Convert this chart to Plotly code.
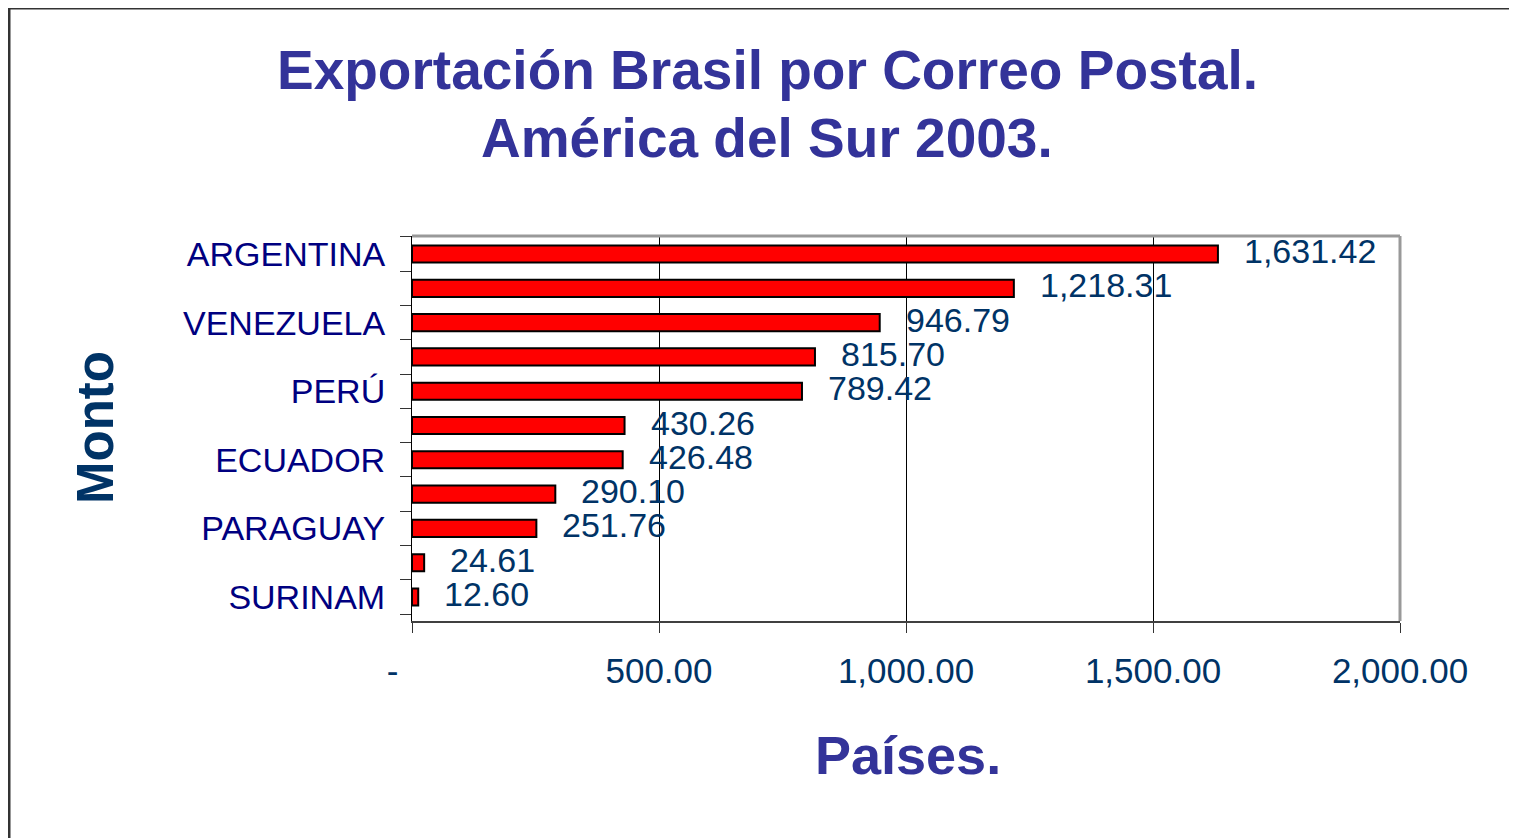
import plotly.graph_objects as go

# ---- data ----
paises = ["ARGENTINA", "CHILE", "VENEZUELA", "URUGUAY", "PERÚ", "COLOMBIA",
          "ECUADOR", "BOLIVIA", "PARAGUAY", "GUYANA", "SURINAM"]
etiqueta_visible = [True, False, True, False, True, False, True, False, True, False, True]
montos = [1631.42, 1218.31, 946.79, 815.70, 789.42, 430.26, 426.48, 290.10, 251.76, 24.61, 12.60]
x_ticks = [0, 500, 1000, 1500, 2000]

titulo1 = "Exportación Brasil por Correo Postal."
titulo2 = "América del Sur 2003."
titulo_x = "Países."
titulo_y = "Monto"

OFF = 8  # page body margin
W, H = 1517 - OFF, 838 - OFF
L, R, T, B = 412 - OFF, 1400 - OFF, 236 - OFF, 621 - OFF  # plot area in figure pixels
FONT = "Arial, Liberation Sans, sans-serif"


def px(xp):  # screenshot x -> paper
    return (xp - OFF - L) / (R - L)


def py(yp):  # screenshot y -> paper
    return (B - (yp - OFF)) / (B - T)


def fmt(v):
    return "-" + "\u00a0" * 4 if v == 0 else f"{v:,.2f}"


fig = go.Figure()
fig.add_trace(go.Bar(
    x=montos, y=paises, orientation="h",
    marker=dict(color="#FF0000", line=dict(color="#000000", width=2)),
    hoverinfo="x+y",
))

# value labels
for p, v in zip(paises, montos):
    fig.add_annotation(x=v, y=p, xref="x", yref="y", text=f"{v:,.2f}",
                       showarrow=False, xanchor="left", yanchor="middle",
                       xshift=24, yshift=3,
                       font=dict(family=FONT, size=34, color="#003366"))

fig.update_layout(
    width=W, height=H,
    margin=dict(l=L, r=W - R, t=T, b=H - B, pad=0),
    paper_bgcolor="white", plot_bgcolor="white",
    bargap=0.5, showlegend=False,
    xaxis=dict(range=[0, 2000], tickvals=x_ticks, ticktext=[fmt(v) for v in x_ticks],
               showgrid=True, gridcolor="#000000", gridwidth=1,
               ticks="outside", ticklen=10, tickcolor="#333333", tickwidth=1,
               showline=True, linecolor="#404040", linewidth=2,
               zeroline=False, ticklabelstandoff=8,
               tickfont=dict(family=FONT, size=35, color="#003366")),
    yaxis=dict(type="category", categoryorder="array", categoryarray=paises,
               autorange="reversed",
               tickmode="array", tickvals=paises,
               ticktext=[p if s else "" for p, s in zip(paises, etiqueta_visible)],
               tickson="boundaries", ticks="outside", ticklen=11,
               tickcolor="#333333", tickwidth=1,
               showline=True, linecolor="#000000", linewidth=1,
               showgrid=False, zeroline=False, ticklabelstandoff=19,
               tickfont=dict(family=FONT, size=34, color="#000080")),
)

# plot frame (top & right gray)
fig.add_shape(type="line", xref="paper", yref="paper", x0=0, x1=1, y0=1, y1=1,
              line=dict(color="#999999", width=3))
fig.add_shape(type="line", xref="paper", yref="paper", x0=1, x1=1, y0=0, y1=1,
              line=dict(color="#999999", width=3))

# outer chart frame
fig.add_shape(type="line", xref="paper", yref="paper", x0=px(9), x1=px(9),
              y0=py(1000), y1=py(8), line=dict(color="#333333", width=3))
fig.add_shape(type="line", xref="paper", yref="paper", x0=px(9), x1=px(1700),
              y0=py(8), y1=py(8), line=dict(color="#333333", width=3))

# titles
fig.add_annotation(x=px(767), y=py(70), xref="paper", yref="paper", text=f"<b>{titulo1}</b>",
                   showarrow=False, xanchor="center", yanchor="middle",
                   font=dict(family=FONT, size=55, color="#333399"))
fig.add_annotation(x=px(767), y=py(138), xref="paper", yref="paper", text=f"<b>{titulo2}</b>",
                   showarrow=False, xanchor="center", yanchor="middle",
                   font=dict(family=FONT, size=55, color="#333399"))
fig.add_annotation(x=px(908), y=py(755), xref="paper", yref="paper", text=f"<b>{titulo_x}</b>",
                   showarrow=False, xanchor="center", yanchor="middle",
                   font=dict(family=FONT, size=54, color="#333399"))
fig.add_annotation(x=px(95), y=py(428), xref="paper", yref="paper", text=f"<b>{titulo_y}</b>",
                   showarrow=False, xanchor="center", yanchor="middle", textangle=-90,
                   font=dict(family=FONT, size=51, color="#003366"))

fig.write_html("out.html")
